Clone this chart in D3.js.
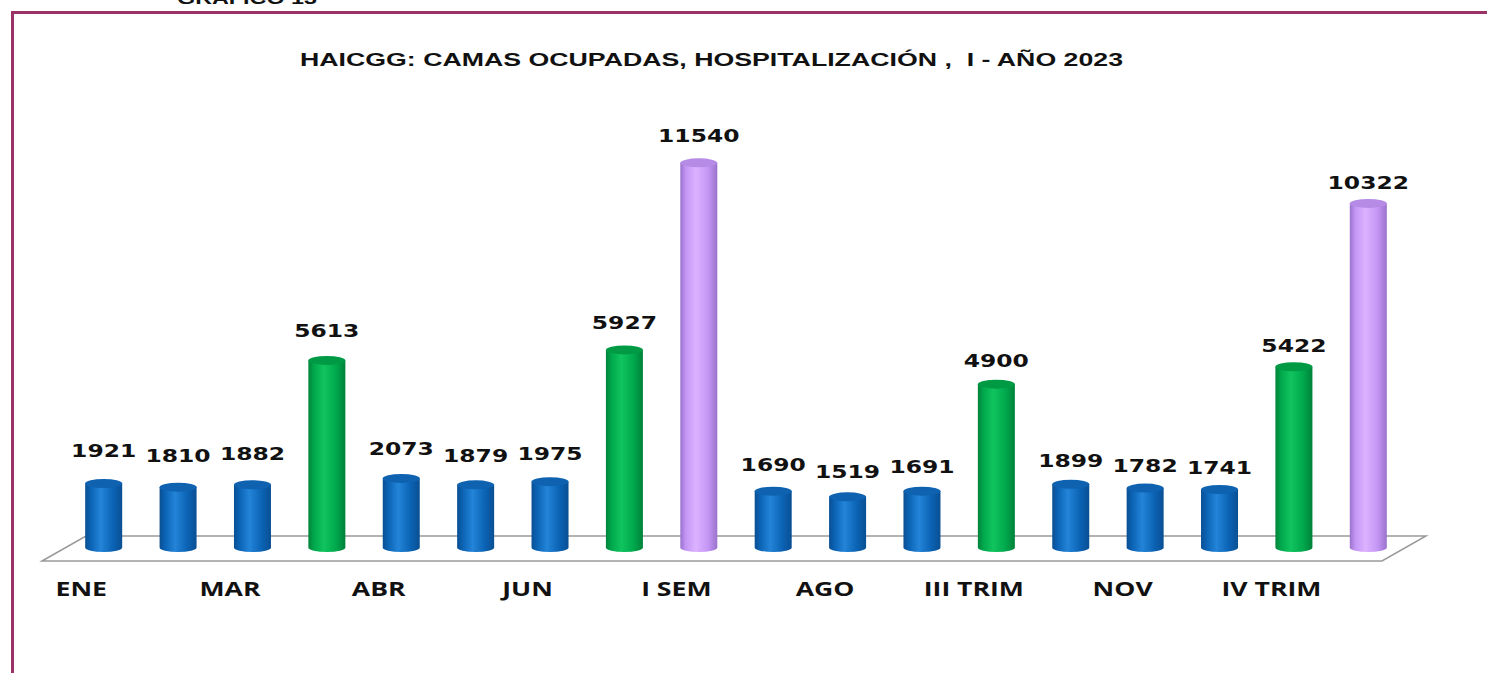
<!DOCTYPE html>
<html>
<head>
<meta charset="utf-8">
<script src="https://cdn.jsdelivr.net/npm/d3@7"></script>
<style>
  html, body { margin: 0; padding: 0; background: #ffffff; }
  svg { display: block; }
</style>
</head>
<body>
<svg id="chart" width="1487" height="673"></svg>
<script>
// ---- data ----
const categories = ["ENE","FEB","MAR","I TRIM","ABR","MAY","JUN","II TRIM","I SEM",
                    "JUL","AGO","SEP","III TRIM","OCT","NOV","DIC","IV TRIM","II SEM"];
const values = [1921,1810,1882,5613,2073,1879,1975,5927,11540,
                1690,1519,1691,4900,1899,1782,1741,5422,10322];
const kinds = ["mes","mes","mes","trim","mes","mes","mes","trim","sem",
               "mes","mes","mes","trim","mes","mes","mes","trim","sem"];
const shownTicks = ["ENE","MAR","ABR","JUN","I SEM","AGO","III TRIM","NOV","IV TRIM"];
const title = "HAICGG: CAMAS OCUPADAS, HOSPITALIZACIÓN ,  I - AÑO 2023";
const caption = "GRAFICO 13";

// ---- layout ----
const svg = d3.select("#chart");
const W = 1487, H = 673;
const depthX = 44, depthY = 25;

const x = d3.scaleBand().domain(categories).range([66.5, 1405.5]).padding(0);
const y = d3.scaleLinear().domain([0, 12000]).range([547.5, 147.5]);

const palette = {
  mes:  { dark: "#0a4f93", mid: "#0b63b4", light: "#2384d8", top: "#0f62b0" },
  trim: { dark: "#00823a", mid: "#00a84c", light: "#10c45e", top: "#009a45" },
  sem:  { dark: "#9a72cc", mid: "#c496f5", light: "#dcb2ff", top: "#b58be6" }
};

const defs = svg.append("defs");
Object.entries(palette).forEach(([k, c]) => {
  const g = defs.append("linearGradient").attr("id", "grad-" + k)
    .attr("x1", "0%").attr("x2", "100%").attr("y1", "0%").attr("y2", "0%");
  g.append("stop").attr("offset", "0%").attr("stop-color", c.dark);
  g.append("stop").attr("offset", "15%").attr("stop-color", c.mid);
  g.append("stop").attr("offset", "42%").attr("stop-color", c.light);
  g.append("stop").attr("offset", "75%").attr("stop-color", c.mid);
  g.append("stop").attr("offset", "100%").attr("stop-color", c.dark);
});

// frame
svg.append("line").attr("x1", 11).attr("x2", W).attr("y1", 12.5).attr("y2", 12.5)
  .attr("stroke", "#9b3366").attr("stroke-width", 3);
svg.append("line").attr("x1", 12.5).attr("x2", 12.5).attr("y1", 11).attr("y2", H)
  .attr("stroke", "#9b3366").attr("stroke-width", 3);

// caption (cut at top, as in the original)
svg.append("text").text(caption)
  .attr("x", 177).attr("y", 3.5)
  .attr("font-family", "Liberation Sans, Arial, sans-serif")
  .attr("font-weight", "bold").attr("font-size", 17).attr("fill", "#111")
  .attr("textLength", 140).attr("lengthAdjust", "spacingAndGlyphs");

// title
svg.append("text").text(title)
  .attr("x", 300).attr("y", 66)
  .attr("font-family", "Liberation Sans, Arial, sans-serif")
  .attr("font-weight", "bold").attr("font-size", 19).attr("fill", "#111")
  .attr("textLength", 823).attr("lengthAdjust", "spacingAndGlyphs")
  .style("white-space", "pre");

// floor (parallelogram)
const x0 = x.range()[0] - depthX / 2 - 2.5, x1 = x.range()[1] - depthX / 2 - 1.5;
const yFront = 561, yBack = yFront - depthY;
svg.append("path")
  .attr("d", `M${x0},${yFront} L${x0 + depthX},${yBack} L${x1 + depthX},${yBack} L${x1},${yFront} Z`)
  .attr("stroke", "#9a9a9a").attr("stroke-width", 1.5).attr("fill", "none");

// bars (cylinders)
const rx = 18.5, ry = 4.5;
const bars = svg.append("g").selectAll("g").data(categories).join("g");
bars.append("path")
  .attr("d", (d, i) => {
    const cx = x(d) + x.bandwidth() / 2, yt = y(values[i]), yb = y(0);
    return `M${cx - rx},${yt} L${cx - rx},${yb} A${rx},${ry} 0 0 0 ${cx + rx},${yb} L${cx + rx},${yt} Z`;
  })
  .attr("fill", (d, i) => `url(#grad-${kinds[i]})`);
bars.append("ellipse")
  .attr("cx", d => x(d) + x.bandwidth() / 2)
  .attr("cy", (d, i) => y(values[i]))
  .attr("rx", rx).attr("ry", ry)
  .attr("fill", (d, i) => palette[kinds[i]].top);

// value labels
const labels = svg.append("g").selectAll("text").data(categories).join("text")
  .text((d, i) => values[i])
  .attr("x", d => x(d) + x.bandwidth() / 2)
  .attr("y", (d, i) => y(values[i]) - (26 - 0.7 * i))
  .attr("text-anchor", "middle")
  .attr("font-family", "DejaVu Sans, Verdana, sans-serif")
  .attr("font-weight", "bold").attr("font-size", 18).attr("fill", "#111");
labels.each(function () {
  const n = this.getComputedTextLength();
  d3.select(this).attr("textLength", n * 1.3).attr("lengthAdjust", "spacingAndGlyphs");
});

// x axis (labels along front edge of floor)
const axis = d3.axisBottom(x).tickValues(shownTicks).tickSize(0).tickPadding(0);
const ax = svg.append("g")
  .attr("transform", `translate(${-depthX / 2 - 0.5},${yFront + 35})`)
  .call(axis);
ax.select(".domain").remove();
ax.selectAll("text")
  .attr("dy", 0).attr("y", 0)
  .attr("font-family", "Open Sans, sans-serif")
  .attr("font-weight", "bold").attr("font-size", 19).attr("fill", "#111")
  .each(function () {
    const n = this.getComputedTextLength();
    d3.select(this).attr("textLength", n * 1.4).attr("lengthAdjust", "spacingAndGlyphs");
  });
</script>
</body>
</html>
